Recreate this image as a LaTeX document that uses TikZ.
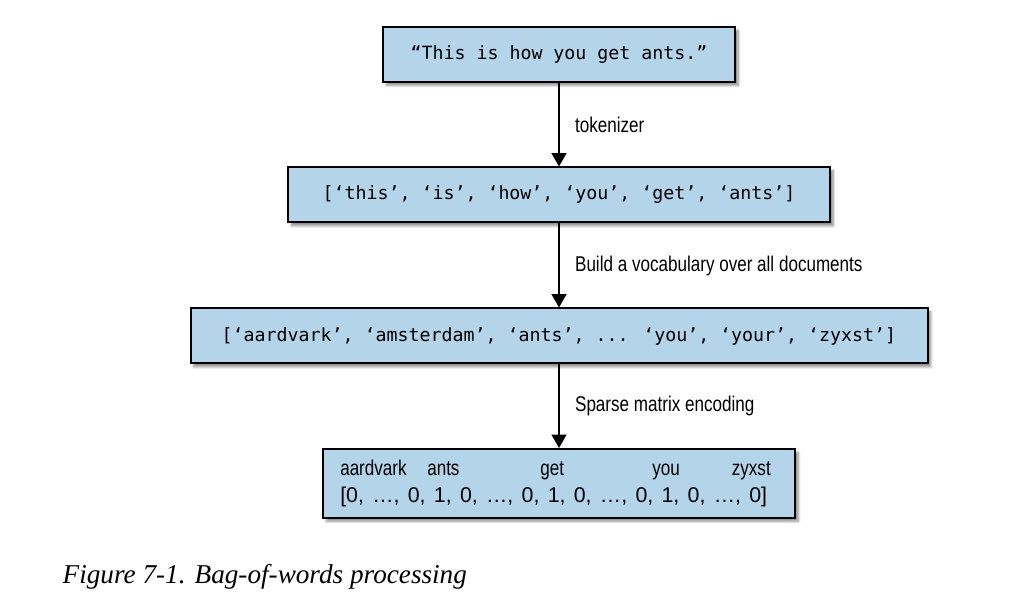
\documentclass[tikz,border=0pt]{standalone}
\usepackage{fontspec}
\setmainfont{Liberation Serif}
\newfontfamily\labelfont[FakeStretch=0.8]{Liberation Sans}
\newfontfamily\bitsfont[WordSpace=1.4]{Liberation Sans}
\newfontfamily\codefont{DejaVu Sans Mono}
\usetikzlibrary{arrows.meta,shadows.blur}
\definecolor{boxblue}{RGB}{180,212,234}

\begin{document}
\begin{tikzpicture}[x=0.75pt,y=-0.75pt,
	stage/.style={draw=black,line width=1.5pt,fill=boxblue,inner sep=0pt,minimum height=41.25pt,
		font=\codefont\fontsize{13.7}{16}\selectfont,
		blur shadow={shadow xshift=2.5pt,shadow yshift=-2.5pt,shadow blur steps=6,shadow opacity=45}},
	flow/.style={-{Triangle[length=10pt,width=11pt]},line width=1.5pt},
	arrowtext/.style={font=\labelfont\fontsize{16}{19}\selectfont,right=8pt},
	wordtext/.style={font=\labelfont\fontsize{16}{19}\selectfont,inner sep=0pt}]
	\useasboundingbox (0,0) rectangle (1024,609);
	\node[stage,minimum width=264pt] (sentence) at (559,54.5) {“This is how you get ants.”};
	\node[stage,minimum width=406.5pt] (tokens) at (559,195) {[‘this’, ‘is’, ‘how’, ‘you’, ‘get’, ‘ants’]};
	\node[stage,minimum width=552.75pt] (vocab) at (559,336) {[‘aardvark’, ‘amsterdam’, ‘ants’, ... ‘you’, ‘your’, ‘zyxst’]};
	\node[stage,minimum width=354pt,minimum height=51.75pt] (vector) at (559,483.5) {};
	\node[wordtext,anchor=base west] (w-aardvark) at (340,475) {aardvark};
	\node[wordtext,anchor=base west] (w-ants) at (427,475) {ants};
	\node[wordtext,anchor=base west] (w-get) at (540,475) {get};
	\node[wordtext,anchor=base west] (w-you) at (652,475) {you};
	\node[wordtext,anchor=base east] (w-zyxst) at (771,475) {zyxst};
	\node[wordtext,font=\bitsfont\fontsize{16}{19}\selectfont,anchor=base west] (bits) at (340,502) {[0, …, 0, 1, 0, …, 0, 1, 0, …, 0, 1, 0, …, 0]};
	\draw[flow] (sentence) -- (tokens) node[arrowtext,midway] (l-tok) {tokenizer};
	\draw[flow] (tokens) -- (vocab) node[arrowtext,midway] (l-vocab) {Build a vocabulary over all documents};
	\draw[flow] (vocab) -- (vector) node[arrowtext,midway] (l-sparse) {Sparse matrix encoding};
	\node[anchor=base west,font=\itshape\fontsize{20.4}{24}\selectfont] (caption) at (58,583) {Figure 7-1. Bag-of-words processing};
\end{tikzpicture}
\end{document}
